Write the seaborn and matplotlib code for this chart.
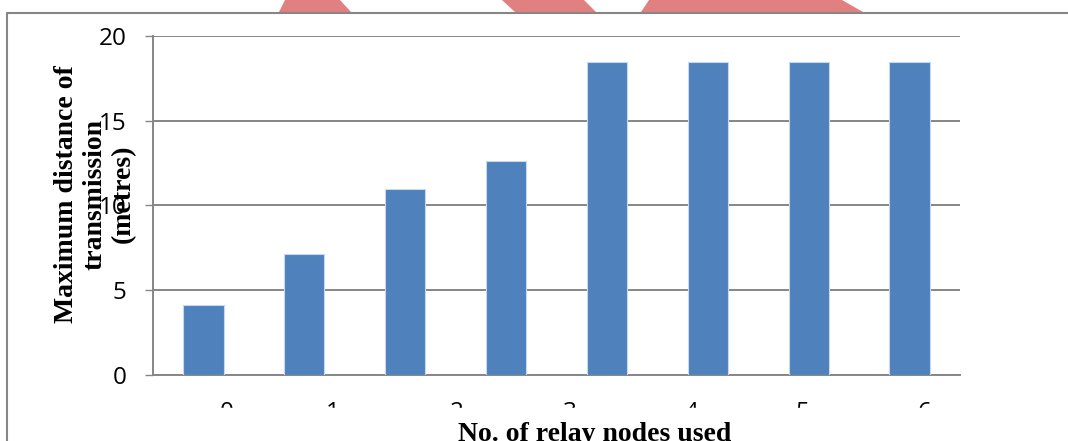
import matplotlib
matplotlib.use('Agg')
import matplotlib.pyplot as plt
from matplotlib.patches import Rectangle, Polygon
from matplotlib.lines import Line2D
import seaborn as sns

# values
bar_ids = ['b0', 'b1', 'b2', 'b3', 'b4', 'b5', 'b6', 'b7']
bar_values = [4.13, 7.12, 10.96, 12.64, 18.45, 18.45, 18.45, 18.45]
tick_labels = ['0', '1', '2', '3', '4', '5', '6']
y_ticks = [0, 5, 10, 15, 20]

# where the (misaligned) category labels sit, in bar units
label_pos = [0.23, 1.28, 2.51, 3.63, 4.84, 5.94, 7.15]

W, H = 1068, 441
GRID = '#868686'
BAR = '#4F81BD'

sns.set_style('white')
plt.rcParams['font.family'] = ['Open Sans', 'DejaVu Sans']
plt.rcParams['text.color'] = 'black'
plt.rcParams['xtick.color'] = 'black'
plt.rcParams['ytick.color'] = 'black'

fig = plt.figure(figsize=(W / 100, H / 100), dpi=100)
ax = fig.add_axes([153 / W, 1 - 375 / H, (960 - 153) / W, (375 - 35.7) / H])

sns.barplot(x=bar_ids, y=bar_values, color=BAR, width=0.4, saturation=1,
            edgecolor='#c6d9f1', linewidth=0.8, ax=ax, zorder=3)

ax.set_xlim(-0.5, 7.5)
ax.set_ylim(0, 20)
ax.set_yticks(y_ticks)
ax.set_yticklabels([str(v) for v in y_ticks], fontsize=17.5)
ax.set_xticks(label_pos)
ax.set_xticklabels(tick_labels, fontsize=17.5)
ax.set_xlabel('')
ax.set_ylabel('')

ax.yaxis.grid(True, color=GRID, linewidth=1.4, zorder=0)
ax.set_axisbelow(True)
for s in ['top', 'right']:
    ax.spines[s].set_visible(False)
for s in ['left', 'bottom']:
    ax.spines[s].set_color(GRID)
    ax.spines[s].set_linewidth(1.4)
ax.tick_params(axis='y', direction='out', length=6, width=1.0, color=GRID,
               labelcolor='black', pad=13, left=True)
ax.tick_params(axis='x', length=0, pad=19, labelcolor='black')

# the lower half of the category labels is cut away in the original
fig.add_artist(Rectangle((20 / W, 1 - 421 / H), 1, (421 - 408) / H,
                         transform=fig.transFigure, color='white', zorder=10))

fig.text(595 / W, 0, 'No. of relay nodes used', ha='center', va='baseline',
         fontsize=20, fontweight='bold', family='Liberation Serif', zorder=11)
fig.text(95 / W, 1 - 194 / H, 'Maximum distance of\ntransmission\n(metres)',
         rotation=90, ha='center', va='center', multialignment='center',
         fontsize=20, fontweight='bold', family='Liberation Serif',
         linespacing=1.2, zorder=11)

# outer frame of the embedded chart
fig.add_artist(Line2D([7 / W, 7 / W], [0, 1 - 12.5 / H], transform=fig.transFigure,
                      color=GRID, linewidth=1.5))
fig.add_artist(Line2D([7 / W, 1], [1 - 12.5 / H, 1 - 12.5 / H], transform=fig.transFigure,
                      color=GRID, linewidth=1.5))

# bits of the red watermark peeking above the frame
for pts in ([(285, 0), (340, 0), (351, 12), (279, 12)],
            [(502, 0), (584, 0), (596, 12), (515, 12)],
            [(649, 0), (842, 0), (863, 12), (641, 12)]):
    fig.add_artist(Polygon([(x / W, 1 - y / H) for x, y in pts], closed=True,
                           transform=fig.transFigure, color='#E08080', lw=0))

fig.savefig('out.png', dpi=100)
